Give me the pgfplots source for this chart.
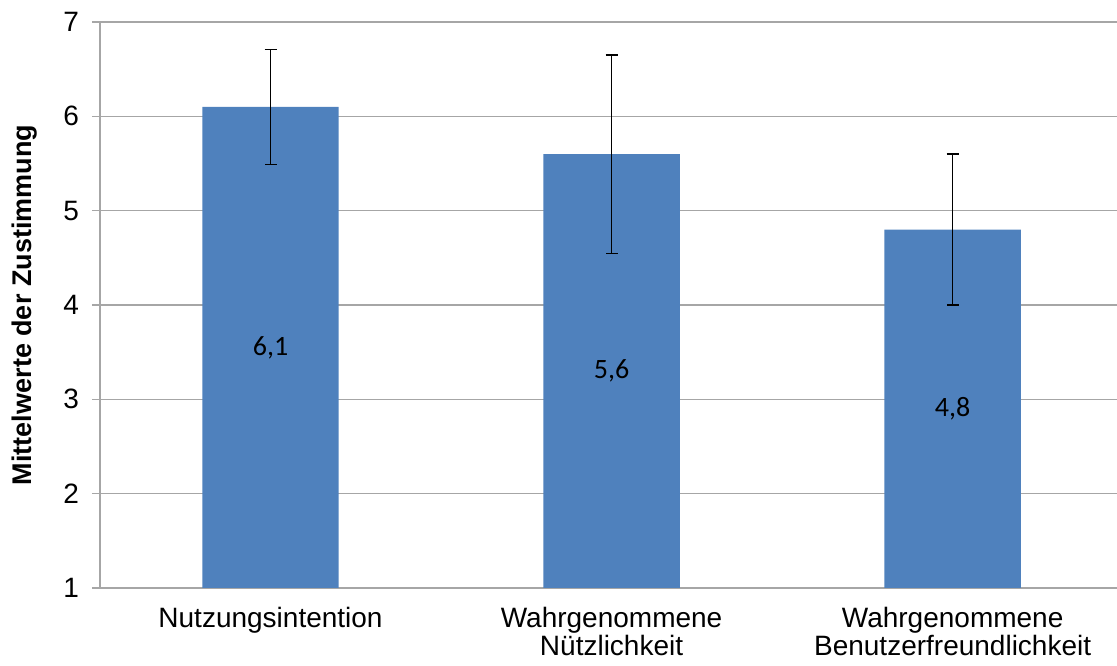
\documentclass[border=0pt]{standalone}
\usepackage{pgfplots}
\pgfplotsset{compat=1.18}
\usepackage{fontspec}
\setmainfont{Liberation Sans}
\newfontfamily\calibri{Carlito}
\definecolor{barblue}{HTML}{4F81BD}
\definecolor{gridgray}{HTML}{A6A6A6}
\begin{document}
\begin{tikzpicture}
\begin{axis}[
  scale only axis,
  width=508.5pt, height=283pt,
  xmin=-0.5, xmax=2.482,
  ymin=1, ymax=7,
  ytick={1,2,3,4,5,6,7},
  xtick={0,1,2},
  xticklabels={Nutzungsintention,{Wahrgenommene\\Nützlichkeit},{Wahrgenommene\\Benutzerfreundlichkeit}},
  xticklabel style={align=center, font=\fontsize{14}{14.3}\selectfont},
  yticklabel style={font=\fontsize{14}{15}\selectfont},
  major x tick style={draw=none},
  extra x ticks={-0.5,0.5,1.5},
  extra x tick labels={},
  extra x tick style={grid=none, major tick length=4pt, tick style={draw=gridgray, line width=0.8pt}},
  tick align=outside,
  major tick length=4pt,
  ymajorgrids,
  grid style={gridgray, line width=0.8pt},
  axis line style={gridgray, line width=0.8pt},
  ytick style={gridgray, line width=0.8pt},
  axis x line*=bottom,
  axis y line*=left,
  ylabel={\bfseries Mittelwerte der Zustimmung},
  ylabel style={font=\fontsize{13.5}{14}\selectfont, at={(axis description cs:0,0.5)}, anchor=center, yshift=37.5pt},
  /pgf/number format/assume math mode=true,
  xticklabel shift=2pt,
  yticklabel shift=3pt,
  clip=false,
]
\addplot[ybar, bar width=0.4, bar shift=0pt, fill=barblue, draw=none,
  error bars/.cd, y dir=both, y explicit, error mark=-, error mark options={black, line width=0.6pt, mark size=3pt, rotate=90},
  error bar style={black, line width=0.6pt}]
  coordinates {
    (0,6.1) +- (0,0.61)
    (1,5.6) +- (0,1.05)
    (2,4.8) +- (0,0.80)
  };
\addplot[only marks, mark=none, nodes near coords, point meta=explicit symbolic,
  every node near coord/.append style={anchor=center, font=\calibri\fontsize{14}{15}\selectfont, black}]
  coordinates {
    (0,3.55) [6,1]
    (1,3.30) [5,6]
    (2,2.90) [4,8]
  };
\end{axis}
\pgfresetboundingbox
\path (current axis.south west) ++(-50pt,-39pt) coordinate (bl);
\path (current axis.north east) ++(0pt,11pt) coordinate (tr);
\path (bl) rectangle (tr);
\end{tikzpicture}
\end{document}
